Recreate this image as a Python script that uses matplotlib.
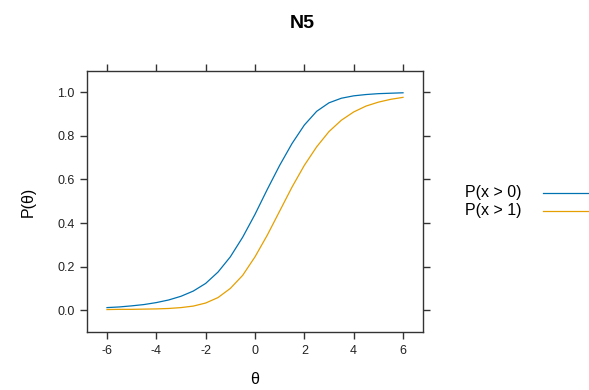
import matplotlib
matplotlib.use("Agg")
import matplotlib.pyplot as plt
import numpy as np

plt.rcParams['font.family'] = ['Liberation Sans', 'DejaVu Sans']

# ability grid and cumulative category probabilities for item N5
theta = [-6.0, -5.5, -5.0, -4.5, -4.0, -3.5, -3.0, -2.5, -2.0, -1.5, -1.0, -0.5,
         0.0, 0.5, 1.0, 1.5, 2.0, 2.5, 3.0, 3.5, 4.0, 4.5, 5.0, 5.5, 6.0]
p_gt0 = [0.012, 0.015, 0.020, 0.026, 0.035, 0.047, 0.064, 0.088, 0.123, 0.175, 0.245, 0.335,
         0.440, 0.555, 0.665, 0.765, 0.850, 0.913, 0.952, 0.973, 0.984, 0.990, 0.994, 0.996, 0.998]
p_gt1 = [0.003, 0.004, 0.004, 0.005, 0.006, 0.008, 0.012, 0.019, 0.033, 0.058, 0.100, 0.160,
         0.245, 0.345, 0.455, 0.565, 0.665, 0.750, 0.820, 0.872, 0.910, 0.937, 0.955, 0.968, 0.977]
labels = ['P(x > 0)', 'P(x > 1)']
colors = ['#0072B2', '#E69F00']

W, H = 589, 390
fig = plt.figure(figsize=(W / 100, H / 100), dpi=100)
ax = fig.add_axes([87 / W, 1 - 332 / H, (423 - 87) / W, (332 - 71) / H])

for ys, c in zip([p_gt0, p_gt1], colors):
    ax.plot(theta, ys, color=c, lw=0.9)

ax.set_xlim(-6.81, 6.81)
ax.set_ylim(-0.1, 1.098)
ax.set_xticks(np.arange(-6, 7, 2))
ax.set_yticks(np.arange(0, 1.01, 0.2))
ax.set_xticklabels([str(v) for v in range(-6, 7, 2)])
ax.set_yticklabels(['%.1f' % v for v in np.arange(0, 1.01, 0.2)])

edge = '#333333'
for s in ax.spines.values():
    s.set_color(edge)
    s.set_linewidth(1.0)
ax.tick_params(direction='out', length=5, width=1.0, color=edge, labelsize=9,
               labelcolor='#222222', top=True, right=True, pad=4)

fig.text(302 / W, 1 - 24 / H, 'N5', ha='center', va='center', fontsize=14, fontweight='bold')
fig.text(28 / W, 1 - 202 / H, 'P(θ)', ha='center', va='center', rotation=90, fontsize=11.5)
fig.text(255 / W, 1 - 380 / H, 'θ', ha='center', va='center', fontsize=11.5)

# key on the right
for i, (lab, c) in enumerate(zip(labels, colors)):
    y = 1 - (192.5 + i * 18.5) / H
    fig.text(465 / W, y, lab, ha='left', va='center', fontsize=11.5)
    fig.add_artist(plt.Line2D([543 / W, 589 / W], [y, y], color=c, lw=0.9,
                              transform=fig.transFigure))

fig.savefig('out.png', dpi=100)
